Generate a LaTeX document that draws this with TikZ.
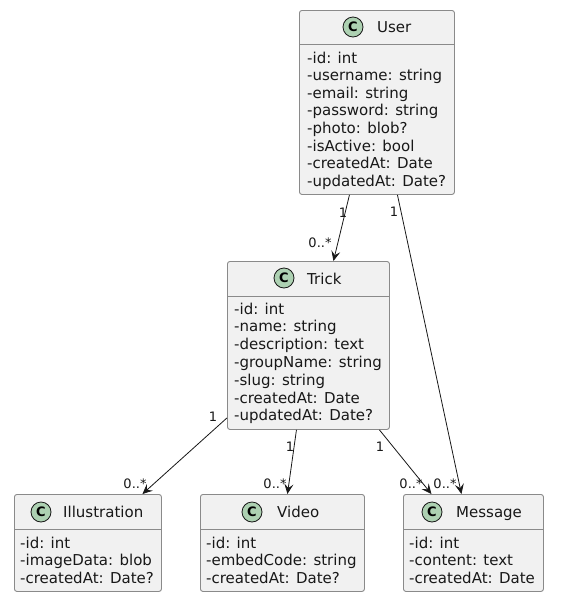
\documentclass[tikz,border=0pt]{standalone}
\usepackage{fontspec}
\setmainfont{DejaVu Sans}
\usetikzlibrary{arrows.meta}
\definecolor{boxfill}{HTML}{F1F1F1}
\definecolor{boxline}{HTML}{8A8A8A}
\definecolor{circfill}{HTML}{ADD1B2}
\definecolor{ink}{HTML}{181818}
\tikzset{
  classbox/.style={draw=boxline, line width=0.9pt, fill=boxfill, rounded corners=2.5pt, anchor=north west, inner sep=0pt},
  divline/.style={draw=boxline, line width=0.9pt},
  cbadge/.style={circle, draw=ink, line width=0.8pt, fill=circfill, minimum size=20pt, inner sep=0pt, font=\fontsize{13}{13}\selectfont\bfseries},
  title/.style={anchor=base west, inner sep=0pt, text=ink, font=\fontsize{15}{17}\selectfont},
  attr/.style={anchor=base west, inner sep=0pt, text=ink, font=\fontsize{15}{17}\selectfont},
  mult/.style={inner sep=0pt, text=ink, font=\fontsize{13}{15}\selectfont},
  assoc/.style={draw=ink, line width=0.8pt, -{Stealth[length=10pt,width=9pt,inset=4pt]}},
}
\begin{document}
\begin{tikzpicture}[x=1pt,y=-1pt]
\useasboundingbox[fill=white] (0,0) rectangle (563,603);

% User
\node[classbox, minimum width=155pt, minimum height=184pt] (user) at (299,10) {};
\draw[divline] (299,44) -- (454,44);
\node[cbadge] (userc) at (353,27) {C};
\node[title] (usert) at (377,32) {User};
\node[attr] (u1) at (307,63) {-id: int};
\node[attr] (u2) at (307,80.6) {-username: string};
\node[attr] (u3) at (307,98.2) {-email: string};
\node[attr] (u4) at (307,115.8) {-password: string};
\node[attr] (u5) at (307,133.4) {-photo: blob?};
\node[attr] (u6) at (307,151) {-isActive: bool};
\node[attr] (u7) at (307,168.6) {-createdAt: Date};
\node[attr] (u8) at (307,186.2) {-updatedAt: Date?};

% Trick
\node[classbox, minimum width=162pt, minimum height=168pt] (trick) at (227,261) {};
\draw[divline] (227,296) -- (389,296);
\node[cbadge] (trickc) at (284,278) {C};
\node[title] (trickt) at (307,284) {Trick};
\node[attr] (t1) at (234,314) {-id: int};
\node[attr] (t2) at (234,331.8) {-name: string};
\node[attr] (t3) at (234,349.6) {-description: text};
\node[attr] (t4) at (234,367.4) {-groupName: string};
\node[attr] (t5) at (234,385.2) {-slug: string};
\node[attr] (t6) at (234,403) {-createdAt: Date};
\node[attr] (t7) at (234,420.8) {-updatedAt: Date?};

% Illustration
\node[classbox, minimum width=147pt, minimum height=97pt] (ill) at (14,494) {};
\draw[divline] (14,529) -- (161,529);
\node[cbadge] (illc) at (41,512) {C};
\node[title] (illt) at (63,517) {Illustration};
\node[attr] (i1) at (20,548) {-id: int};
\node[attr] (i2) at (20,565.6) {-imageData: blob};
\node[attr] (i3) at (20,583.2) {-createdAt: Date?};

% Video
\node[classbox, minimum width=164pt, minimum height=97pt] (video) at (200,494) {};
\draw[divline] (200,529) -- (364,529);
\node[cbadge] (videoc) at (252,512) {C};
\node[title] (videot) at (277,517) {Video};
\node[attr] (v1) at (206,548) {-id: int};
\node[attr] (v2) at (206,565.6) {-embedCode: string};
\node[attr] (v3) at (206,583.2) {-createdAt: Date?};

% Message
\node[classbox, minimum width=140pt, minimum height=97pt] (msg) at (403,494) {};
\draw[divline] (403,529) -- (543,529);
\node[cbadge] (msgc) at (432,512) {C};
\node[title] (msgt) at (456,517) {Message};
\node[attr] (m1) at (409,548) {-id: int};
\node[attr] (m2) at (409,565.6) {-content: text};
\node[attr] (m3) at (409,583.2) {-createdAt: Date};

% Associations
\draw[assoc] ([xshift=-27.5pt]user.south) -- ([xshift=25pt]trick.north);
\draw[assoc] ([xshift=20.5pt]user.south) -- ([xshift=-12pt]msg.north);
\draw[assoc] ([yshift=12pt]trick.south west) -- ([xshift=54.5pt]ill.north);
\draw[assoc] ([xshift=-12pt]trick.south) -- ([xshift=5pt]video.north);
\draw[assoc] ([xshift=71pt]trick.south) -- ([xshift=-42pt]msg.north);

% Multiplicities
\node[mult] (l1) at (343,213) {1};
\node[mult] (l2) at (320,243) {0..*};
\node[mult] (l3) at (394,212) {1};
\node[mult] (l4) at (213,417) {1};
\node[mult] (l5) at (135,484) {0..*};
\node[mult] (l6) at (290,447) {1};
\node[mult] (l7) at (275,484) {0..*};
\node[mult] (l8) at (380,447) {1};
\node[mult] (l9) at (411,484) {0..*};
\node[mult] (l10) at (445,484) {0..*};
\end{tikzpicture}
\end{document}
